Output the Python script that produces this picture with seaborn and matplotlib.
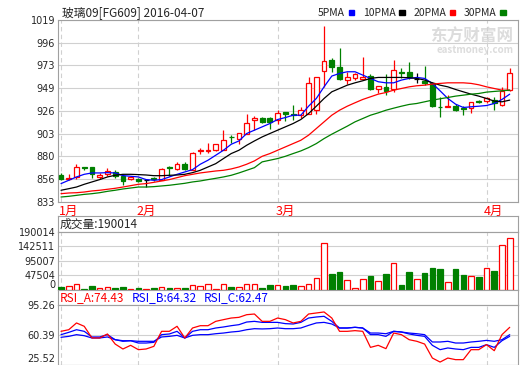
import matplotlib
matplotlib.use("Agg")
import numpy as np
import pandas as pd
import matplotlib.pyplot as plt
import matplotlib.transforms as mtransforms
from matplotlib.patches import Patch
import seaborn as sns

# ---- données (59 séances) ----
opens = [861, 856, 858.6, 868.5, 868.8, 858.6, 861.3, 863.7, 860, 856.5,
         856.5, 855.2, 857.5, 855, 869, 867, 872, 866, 885, 885.6,
         886, 886.6, 899.5, 897.8, 903, 916.6, 919, 919, 917.3, 924.5,
         922.8, 922.4, 923.4, 926.8, 967.1, 978, 970.5, 957.6, 959.3, 958.9,
         961.7, 948, 950.7, 948, 966, 966.1, 958.2, 956.5, 954.2, 930.3,
         930.3, 931, 929, 928.6, 936.4, 936, 937, 932, 947.3]
highs = [862.5, 862, 872.2, 869, 869, 863, 868, 866, 862, 859.5,
         857.5, 856, 859, 867.5, 869.5, 874, 874, 884, 888.3, 893.4,
         892.7, 906.4, 901, 903.6, 922.7, 920.7, 920, 919.5, 926.9, 925,
         932, 929.6, 961, 960.3, 1012.9, 979.7, 990, 966, 964.4, 980.8,
         963.7, 952, 963.7, 978, 969.5, 976.3, 964.4, 971.9, 955.9, 940.5,
         942.2, 933, 931, 935.4, 937, 939.8, 940.5, 950.7, 969.5]
lows = [855.5, 855, 857, 866, 858, 857, 860, 858, 850, 855.5,
        853.5, 848, 854, 855, 860, 866, 866, 866, 882, 883,
        885, 886, 893, 892.7, 902.3, 906.4, 914, 908, 912.5, 916,
        917, 919, 922.8, 922.8, 950.7, 966, 958, 954, 958, 958.6,
        947.3, 944.6, 942, 945.6, 959.3, 958.2, 954.2, 952.4, 929.6, 920,
        930, 926.2, 921.7, 924, 933.7, 934.4, 927.5, 931, 946.6]
closes = [856.5, 857.5, 868.8, 867.5, 862, 860.6, 864.7, 860, 854.5, 858.6,
          854.5, 855.2, 856.5, 867, 868, 872.2, 867, 883.2, 886.5, 886.2,
          892, 896.8, 899, 903.6, 913.9, 919, 915, 915, 924, 923.4,
          921.7, 926.8, 954.2, 960.3, 976.7, 971.2, 958.6, 960.3, 963.4, 961,
          948.7, 951.4, 946.6, 967.8, 965, 960.3, 958.2, 954.8, 931, 929.6,
          931.3, 926.9, 928.5, 934.7, 935, 938.8, 933.7, 946.6, 964.4]
volumes = [11100, 14400, 20000, 4400, 14400, 6700, 11100, 7800, 11100, 4400,
           7800, 4400, 7800, 11100, 7800, 7800, 7800, 17800, 14400, 20000,
           4400, 20000, 11100, 11100, 20000, 20000, 7800, 17800, 17800, 14400,
           17800, 14400, 20000, 40000, 153300, 51100, 57800, 33300, 6700, 36700,
           46700, 30000, 51100, 87800, 17800, 57800, 36700, 54400, 71100, 67800,
           26700, 67800, 47800, 46700, 41100, 73300, 61100, 146700, 170000]

ma5 = [851.8, 855.2, 858.6, 861.3, 862.7, 862.7, 863.0, 862.7, 860.0, 859.3,
       858.6, 855.9, 855.2, 855.9, 858.6, 861.3, 863.7, 866.1, 871.6, 875.7,
       880.8, 885.9, 892.0, 895.4, 903.0, 906.4, 909.8, 913.2, 917.3, 919.3,
       921.7, 921.7, 930.9, 938.8, 950.7, 961.7, 964.4, 966.1, 966.1, 962.7,
       959.3, 955.9, 954.8, 954.8, 957.6, 959.3, 960.3, 959.3, 954.2, 946.6,
       938.8, 933.0, 929.6, 930.3, 930.9, 931.6, 933.7, 937.8, 943.2]
ma10 = [845.0, 846.6, 848.3, 851.1, 853.5, 855.9, 858.6, 860.3, 861.3, 861.3,
        861.0, 860.6, 859.9, 859.9, 860.3, 860.6, 861.3, 863.0, 865.4, 868.8,
        872.2, 877.4, 882.5, 885.9, 891.0, 895.4, 899.5, 903.0, 906.4, 909.8,
        913.2, 917.3, 923.4, 930.9, 938.8, 945.6, 949.0, 952.4, 954.8, 956.9,
        959.3, 960.3, 960.3, 960.3, 960.3, 960.0, 959.3, 957.6, 954.8, 952.4,
        950.7, 948.0, 945.6, 943.2, 941.2, 938.8, 936.1, 935.4, 937.1]
ma20 = [841.5, 842.2, 842.5, 843.2, 844.3, 845.0, 846.0, 847.0, 848.3, 849.7,
        851.1, 851.8, 853.1, 854.5, 855.9, 857.9, 859.9, 861.3, 862.7, 863.7,
        864.7, 865.4, 866.8, 868.8, 871.6, 875.0, 879.7, 882.5, 885.9, 889.3,
        892.7, 896.1, 901.3, 908.1, 914.9, 921.7, 926.8, 930.9, 934.4, 937.8,
        940.5, 943.2, 944.9, 947.3, 949.0, 950.7, 951.8, 952.4, 953.5, 954.2,
        954.8, 954.8, 954.8, 954.2, 952.8, 950.7, 949.0, 947.3, 947.3]
ma30 = [838.1, 838.8, 839.8, 840.8, 841.5, 842.5, 843.9, 845.0, 846.3, 847.3,
        848.3, 848.3, 848.7, 849.4, 850.1, 851.1, 852.1, 853.5, 854.5, 855.9,
        857.2, 858.6, 860.3, 862.7, 865.4, 868.1, 874.0, 875.7, 877.4, 879.7,
        882.5, 885.2, 888.6, 892.7, 897.8, 902.3, 906.4, 910.5, 914.9, 918.3,
        921.7, 924.1, 926.8, 928.9, 930.9, 932.7, 933.7, 935.4, 937.1, 938.5,
        939.8, 941.2, 942.2, 943.2, 943.9, 945.3, 946.0, 946.6, 947.3]

rsi_a = [64.4, 66.3, 74.2, 70.3, 56.6, 56.6, 61.3, 49.5, 43.7, 48.0,
         42.9, 43.7, 46.8, 64.4, 64.4, 70.3, 56.6, 68.3, 71.0, 71.0,
         76.1, 78.1, 80.0, 80.8, 83.9, 84.7, 76.1, 76.1, 80.0, 78.1,
         74.2, 76.1, 84.7, 85.9, 87.1, 80.0, 64.4, 64.4, 65.2, 64.4,
         45.6, 48.0, 44.1, 62.4, 60.5, 54.6, 52.7, 49.5, 33.1, 28.4,
         33.1, 31.2, 31.2, 42.9, 42.9, 48.8, 41.7, 60.5, 69.1]
rsi_b = [60.5, 63.2, 66.3, 64.4, 57.8, 57.8, 60.5, 54.6, 52.7, 53.4,
         50.7, 50.7, 51.5, 60.5, 61.3, 64.4, 56.6, 64.4, 66.3, 66.3,
         68.3, 69.5, 71.0, 72.2, 75.3, 76.1, 74.9, 74.9, 74.9, 73.4,
         73.0, 74.9, 80.0, 81.2, 82.0, 76.1, 68.3, 68.3, 69.1, 68.3,
         60.5, 60.5, 58.5, 64.4, 63.6, 61.3, 59.7, 58.5, 48.0, 42.9,
         44.9, 43.7, 42.9, 45.6, 45.6, 48.8, 45.6, 53.4, 58.5]
rsi_c = [57.4, 58.5, 60.5, 59.3, 56.6, 56.6, 57.8, 54.6, 53.4, 53.4,
         52.7, 52.7, 52.7, 57.8, 58.5, 59.7, 56.6, 59.7, 60.5, 60.5,
         61.6, 62.4, 63.6, 64.4, 66.3, 67.5, 67.2, 67.5, 68.3, 67.5,
         67.5, 68.3, 71.4, 74.2, 74.9, 73.0, 68.3, 68.3, 69.1, 68.3,
         62.4, 62.4, 61.6, 64.4, 63.6, 62.4, 61.6, 60.5, 51.9, 51.9,
         52.7, 50.7, 50.7, 51.9, 52.7, 53.8, 52.7, 54.6, 60.5]

month_labels = ["1月", "2月", "3月", "4月"]
month_starts = [0, 10, 28, 55]
price_ticks = ["833", "856", "880", "903", "926", "949", "973", "996", "1019"]
vol_ticks = ["0", "47504", "95007", "142511", "190014"]
rsi_ticks = ["25.52", "60.39", "95.26"]

RED, GREEN, BLUE = "#ff0000", "#008000", "#0000ff"
GRID, FRAME = "#d0d0d0", "#a0a0a0"
W, H = 520, 365

sns.set_style("white")
plt.rcParams["font.family"] = ["Noto Sans CJK SC", "DejaVu Sans"]

df = pd.DataFrame({"o": opens, "h": highs, "l": lows, "c": closes, "v": volumes})
df["x"] = np.arange(len(df))
up = df["c"] > df["o"]
doji = df["c"] == df["o"]
cand_col = np.where(doji, "black", np.where(up, RED, GREEN))
vol_up = df["c"] >= df["o"]

fig = plt.figure(figsize=(W / 100, H / 100), dpi=100)


def px_axes(x0, y0, x1, y1):
    return fig.add_axes([x0 / W, 1 - y1 / H, (x1 - x0) / W, (y1 - y0) / H])


def style(ax, ticks, lim):
    ax.set_xlim(-0.39, len(df) + 0.07)
    ax.set_ylim(*lim)
    vals = [float(t) for t in ticks]
    ax.set_yticks(vals)
    ax.set_yticklabels(ticks, fontfamily="DejaVu Sans", fontsize=7)
    ax.set_xticks([])
    ax.tick_params(axis="y", length=0, pad=2)
    for v in vals:
        ax.axhline(v, color=GRID, lw=0.8, zorder=0)
    for m in month_starts:
        ax.axvline(m, color=GRID, lw=0.8, ls=(0, (4, 3)), zorder=0)
    for s in ax.spines.values():
        s.set_color(FRAME)
        s.set_linewidth(0.8)
    ax.set_xlabel("")
    ax.set_ylabel("")


def header(y0, y1):
    ax = px_axes(58, y0, 518, y1)
    ax.set_xticks([])
    ax.set_yticks([])
    for s in ax.spines.values():
        s.set_color(FRAME)
        s.set_linewidth(0.8)
    return ax


# ---- K线 + 均线 ----
ax = px_axes(58, 20, 518, 202)
# filigrane
ax.text(0.99, 0.96, "东方财富网", transform=ax.transAxes, ha="right", va="top",
        fontsize=12, fontweight="bold", color="#dcdcdc", zorder=0)
ax.text(0.99, 0.86, "eastmoney.com", transform=ax.transAxes, ha="right",
        va="top", fontsize=7, fontweight="bold", color="#dcdcdc", zorder=0)

ax.vlines(df["x"], df["l"], df["h"], colors=cand_col, lw=0.9, zorder=2)
body = (df["c"] - df["o"]).abs()
ax.bar(df["x"], body.where(body > 0, 0.01), bottom=df[["o", "c"]].min(axis=1),
       width=0.62, color=np.where(up, "white", np.where(doji, "black", GREEN)),
       edgecolor=cand_col, linewidth=0.9, zorder=3)
for vals, col in [(ma5, BLUE), (ma10, "black"), (ma20, RED), (ma30, GREEN)]:
    sns.lineplot(x=df["x"], y=vals, color=col, lw=0.9, ax=ax, zorder=4)
style(ax, price_ticks, (833, 1019))

trans = mtransforms.blended_transform_factory(ax.transData, ax.transAxes)
for lab, m in zip(month_labels, month_starts):
    ax.text(m - 0.3, -0.015, lab, transform=trans, color=RED, fontsize=9,
            ha="left", va="top")

fig.text(62 / W, 1 - 13 / H, "玻璃09[FG609] 2016-04-07", fontsize=8.5,
         ha="left", va="center")
handles = [Patch(color=c) for c in (BLUE, "black", RED, GREEN)]
fig.legend(handles, ["5PMA", "10PMA", "20PMA", "30PMA"], ncol=4,
           markerfirst=False, frameon=False, fontsize=7.5,
           handlelength=0.55, handleheight=0.3, handletextpad=0.35,
           columnspacing=0.8, loc="center right",
           bbox_to_anchor=(510 / W, 1 - 13 / H), borderaxespad=0)

# ---- 成交量 ----
hv = header(215.5, 232)
hv.text(0.004, 0.5, "成交量:190014", fontsize=8.5, va="center", ha="left")
axv = px_axes(58, 232, 518, 290)
axv.bar(df["x"], df["v"], width=0.72,
        color=np.where(vol_up, "white", GREEN),
        edgecolor=np.where(vol_up, RED, GREEN), linewidth=0.9, zorder=3)
style(axv, vol_ticks, (0, 190014))
axv.get_yticklabels()[0].set_verticalalignment("bottom")

# ---- RSI ----
hr = header(290, 305)
x0 = 0.004
for lab, col in [("RSI_A:74.43", RED), ("RSI_B:64.32", BLUE), ("RSI_C:62.47", BLUE)]:
    hr.text(x0, 0.5, lab, color=col, fontsize=8.5, va="center", ha="left")
    x0 += 72 / 460
axr = px_axes(58, 305, 518, 364.5)
for vals, col in [(rsi_c, BLUE), (rsi_b, BLUE), (rsi_a, RED)]:
    sns.lineplot(x=df["x"], y=vals, color=col, lw=0.9, ax=axr, zorder=3)
style(axr, rsi_ticks, (25.52, 95.26))
axr.get_yticklabels()[0].set_verticalalignment("bottom")

fig.savefig("out.png", dpi=100)
